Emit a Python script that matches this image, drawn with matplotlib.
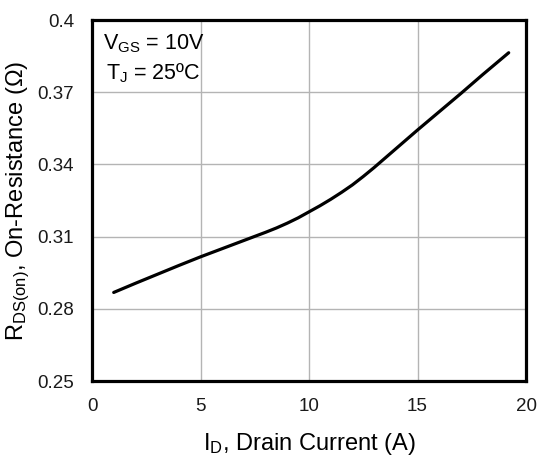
import numpy as np
import matplotlib
matplotlib.use('Agg')
import matplotlib.pyplot as plt

# Drain current (A) vs on-resistance (ohm)
corriente = [1, 2, 3, 4, 5, 6, 7, 8, 8.5, 9, 9.5, 10, 10.5, 11, 11.5, 12, 12.5, 13, 14, 15, 16, 17, 18, 19.2]
rds_on = [0.2868, 0.2906, 0.2943, 0.2980, 0.3016, 0.3050, 0.3084, 0.3118, 0.3136, 0.3156,
          0.3178, 0.3203, 0.3228, 0.3255, 0.3284, 0.3315, 0.3350, 0.3387, 0.3465, 0.3543,
          0.3619, 0.3695, 0.3773, 0.3864]

x_ticks = [0, 5, 10, 15, 20]
y_ticks = [0.25, 0.28, 0.31, 0.34, 0.37, 0.4]
y_tick_labels = ['0.25', '0.28', '0.31', '0.34', '0.37', '0.4']

plt.rcParams['font.family'] = ['Liberation Sans', 'DejaVu Sans']
plt.rcParams['mathtext.fontset'] = 'custom'
plt.rcParams['mathtext.rm'] = 'Liberation Sans'
plt.rcParams['mathtext.it'] = 'Liberation Sans'
plt.rcParams['mathtext.default'] = 'regular'

fig = plt.figure(figsize=(5.39, 4.61), dpi=100)
ax = fig.add_axes([0.1707, 0.1735, 0.8053, 0.7831])

ax.plot(corriente, rds_on, color='black', lw=2.3, solid_capstyle='round', solid_joinstyle='round')

ax.set_xlim(0, 20)
ax.set_ylim(0.25, 0.4)
ax.set_xticks(x_ticks)
ax.set_yticks(y_ticks)
ax.set_yticklabels(y_tick_labels)
ax.grid(True, color='#b4b4b4', lw=1.0)
ax.tick_params(length=0, labelsize=13.5, colors='#1a1a1a')
ax.tick_params(axis='x', pad=12)
ax.tick_params(axis='y', pad=13)
for s in ax.spines.values():
    s.set_linewidth(2.3)
    s.set_color('black')

ax.set_xlabel(r'$I_D$, Drain Current (A)', fontsize=17, labelpad=12)
ax.set_ylabel(r'$R_{DS(on)}$, On-Resistance ($\Omega$)', fontsize=17, labelpad=4)

ax.text(0.026, 0.965, r'$V_{GS}$ = 10V', transform=ax.transAxes, fontsize=15.5, va='top', ha='left')
ax.text(0.033, 0.885, r'$T_J$ = 25ºC', transform=ax.transAxes, fontsize=15.5, va='top', ha='left')

plt.savefig('out.png', dpi=100)
